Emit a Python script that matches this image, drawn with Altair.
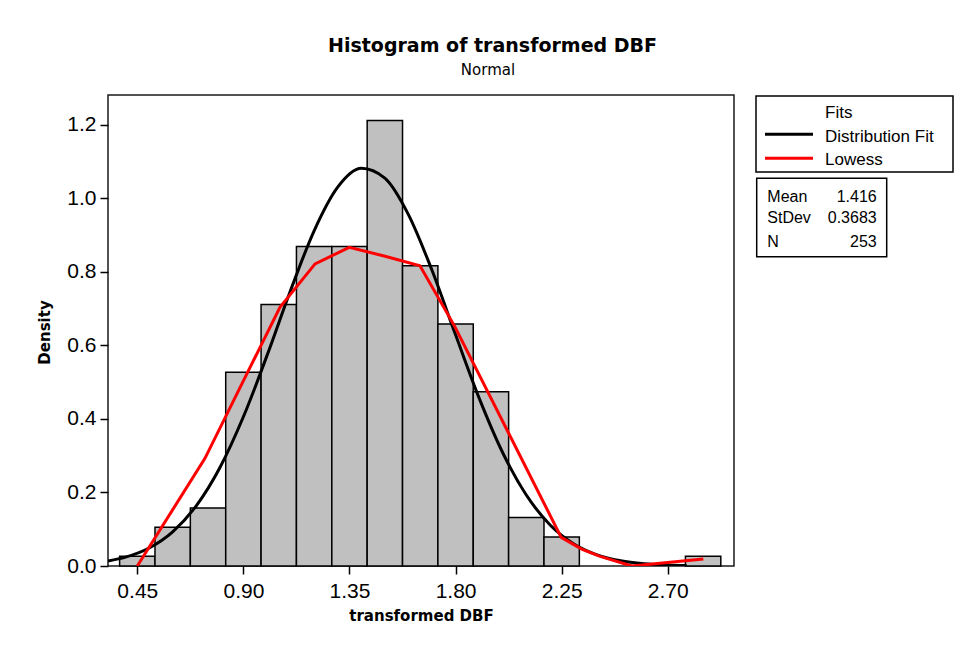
import altair as alt
import pandas as pd

# ---------------- data ----------------
bin_centers = [0.45, 0.60, 0.75, 0.90, 1.05, 1.20, 1.35, 1.50, 1.65, 1.80,
               1.95, 2.10, 2.25, 2.40, 2.55, 2.70, 2.85]
bin_counts = [1, 4, 6, 20, 27, 33, 33, 46, 31, 25, 18, 5, 3, 0, 0, 0, 1]
bin_width = 0.15
n_obs = 253

fit_x = [0.3257, 0.40, 0.50, 0.60, 0.70, 0.80, 0.90, 1.00, 1.10, 1.20, 1.30,
         1.40, 1.50, 1.60, 1.70, 1.80, 1.90, 2.00, 2.10, 2.20, 2.30, 2.40,
         2.50, 2.60, 2.70, 2.78]
fit_y = [0.0135, 0.0241, 0.0491, 0.0931, 0.1637, 0.2674, 0.4060, 0.5724,
         0.7496, 0.9121, 1.0308, 1.0822, 1.0554, 0.9561, 0.8046, 0.6290,
         0.4568, 0.3082, 0.1931, 0.1124, 0.0608, 0.0305, 0.0142, 0.0062,
         0.0025, 0.0011]

lowess_x = [0.450, 0.737, 1.055, 1.204, 1.349, 1.501, 1.649, 1.798, 2.248,
            2.335, 2.413, 2.548, 2.851]
lowess_y = [0.0, 0.293, 0.704, 0.822, 0.867, 0.843, 0.817, 0.650, 0.078,
            0.046, 0.026, 0.0, 0.019]

x_ticks = [0.45, 0.90, 1.35, 1.80, 2.25, 2.70]
y_ticks = [0.0, 0.2, 0.4, 0.6, 0.8, 1.0, 1.2]

title_text = "Histogram of transformed DBF"
subtitle_text = "Normal"
x_title = "transformed DBF"
y_title = "Density"
legend_title = "Fits"
legend_labels = ["Distribution Fit", "Lowess"]
legend_colors = ["#000000", "#FF0000"]
stat_names = ["Mean", "StDev", "N"]
stat_values = ["1.416", "0.3683", "253"]

# ---------------- chart ----------------
W, H = 626, 471
x_dom = [0.3257, 2.981]
y_dom = [0.0, 1.2816]

bars_df = pd.DataFrame({"center": bin_centers, "count": bin_counts})
fit_df = pd.DataFrame({"x": fit_x, "y": fit_y})
low_df = pd.DataFrame({"x": lowess_x, "y": lowess_y})
one = pd.DataFrame({"a": [0]})

xs = alt.Scale(domain=x_dom, nice=False, zero=False)
ys = alt.Scale(domain=y_dom, nice=False, zero=False)

x_axis = alt.Axis(values=x_ticks, format=".2f", title=x_title,
                  tickSize=8, labelPadding=6,
                  titleFont="DejaVu Sans", titleFontSize=15, titleFontWeight="bold",
                  titleX=W / 2, titleY=54, titleBaseline="alphabetic",
                  titleAlign="center")
y_axis = alt.Axis(values=y_ticks, format=".1f", title=y_title,
                  tickSize=8, labelPadding=4,
                  titleFont="DejaVu Sans", titleFontSize=15, titleFontWeight="bold",
                  titleX=-64, titleY=237, titleAngle=270,
                  titleBaseline="middle", titleAlign="center")

bars = alt.Chart(bars_df).transform_filter(
    alt.datum["count"] > 0
).transform_calculate(
    x0=f"datum.center - {bin_width / 2}",
    x1=f"datum.center + {bin_width / 2}",
    density=f"datum.count / ({n_obs} * {bin_width})",
).mark_rect(fill="#C0C0C0", stroke="#000000", strokeWidth=1.5).encode(
    x=alt.X("x0:Q", scale=xs, axis=x_axis),
    x2="x1:Q",
    y=alt.Y("density:Q", scale=ys, axis=y_axis),
    y2=alt.datum(0),
)

fit_line = alt.Chart(fit_df).mark_line(
    color="#000000", strokeWidth=3, interpolate="monotone", clip=True
).encode(x=alt.X("x:Q", scale=xs), y=alt.Y("y:Q", scale=ys))

low_line = alt.Chart(low_df).mark_line(
    color="#FF0000", strokeWidth=3, clip=True
).encode(x=alt.X("x:Q", scale=xs), y=alt.Y("y:Q", scale=ys))

layers = [bars, fit_line, low_line]

# titles
layers.append(alt.Chart(one).mark_text(
    text=title_text, font="DejaVu Sans", fontSize=19, fontWeight="bold",
    align="center", baseline="alphabetic", color="#000000"
).encode(x=alt.value(384.5), y=alt.value(-43.3)))
layers.append(alt.Chart(one).mark_text(
    text=subtitle_text, font="DejaVu Sans", fontSize=15,
    align="center", baseline="alphabetic", color="#000000"
).encode(x=alt.value(380), y=alt.value(-20)))

# legend box
layers.append(alt.Chart(one).mark_rect(
    fill="white", stroke="#000000", strokeWidth=1.5
).encode(x=alt.value(648), x2=alt.value(845), y=alt.value(1), y2=alt.value(77)))
layers.append(alt.Chart(one).mark_text(
    text=legend_title, font="Liberation Sans", fontSize=17,
    align="left", baseline="alphabetic", color="#000000"
).encode(x=alt.value(717), y=alt.value(23.3)))
leg_line_y = [39.3, 63.3]
leg_text_y = [46.7, 70.0]
for lab, col, ly, ty in zip(legend_labels, legend_colors, leg_line_y, leg_text_y):
    layers.append(alt.Chart(one).mark_rule(color=col, strokeWidth=3).encode(
        x=alt.value(657), x2=alt.value(705), y=alt.value(ly)))
    layers.append(alt.Chart(one).mark_text(
        text=lab, font="Liberation Sans", fontSize=17,
        align="left", baseline="alphabetic", color="#000000"
    ).encode(x=alt.value(717), y=alt.value(ty)))

# stats box
layers.append(alt.Chart(one).mark_rect(
    fill="white", stroke="#000000", strokeWidth=1.5
).encode(x=alt.value(648.7), x2=alt.value(778.7), y=alt.value(83.3), y2=alt.value(161.7)))
stat_y = [107, 128, 152]
for nm, val, sy in zip(stat_names, stat_values, stat_y):
    layers.append(alt.Chart(one).mark_text(
        text=nm, font="Liberation Sans", fontSize=16,
        align="left", baseline="alphabetic", color="#000000"
    ).encode(x=alt.value(659.3), y=alt.value(sy)))
    layers.append(alt.Chart(one).mark_text(
        text=val, font="Liberation Sans", fontSize=16,
        align="right", baseline="alphabetic", color="#000000"
    ).encode(x=alt.value(768.7), y=alt.value(sy)))

chart = alt.layer(*layers).properties(
    width=W, height=H,
    autosize=alt.AutoSizeParams(type="none"),
    padding={"left": 108, "top": 95, "right": 245, "bottom": 85},
    background="white",
).configure_view(
    stroke="#1a1a1a", strokeWidth=1.5, fill="white"
).configure_axis(
    domain=False, grid=False, tickColor="#000000", tickWidth=1.5,
    labelColor="#000000", labelFont="Liberation Sans", labelFontSize=21,
    titleColor="#000000",
)

chart.save("out.html", embed_options={"renderer": "svg", "actions": False})
